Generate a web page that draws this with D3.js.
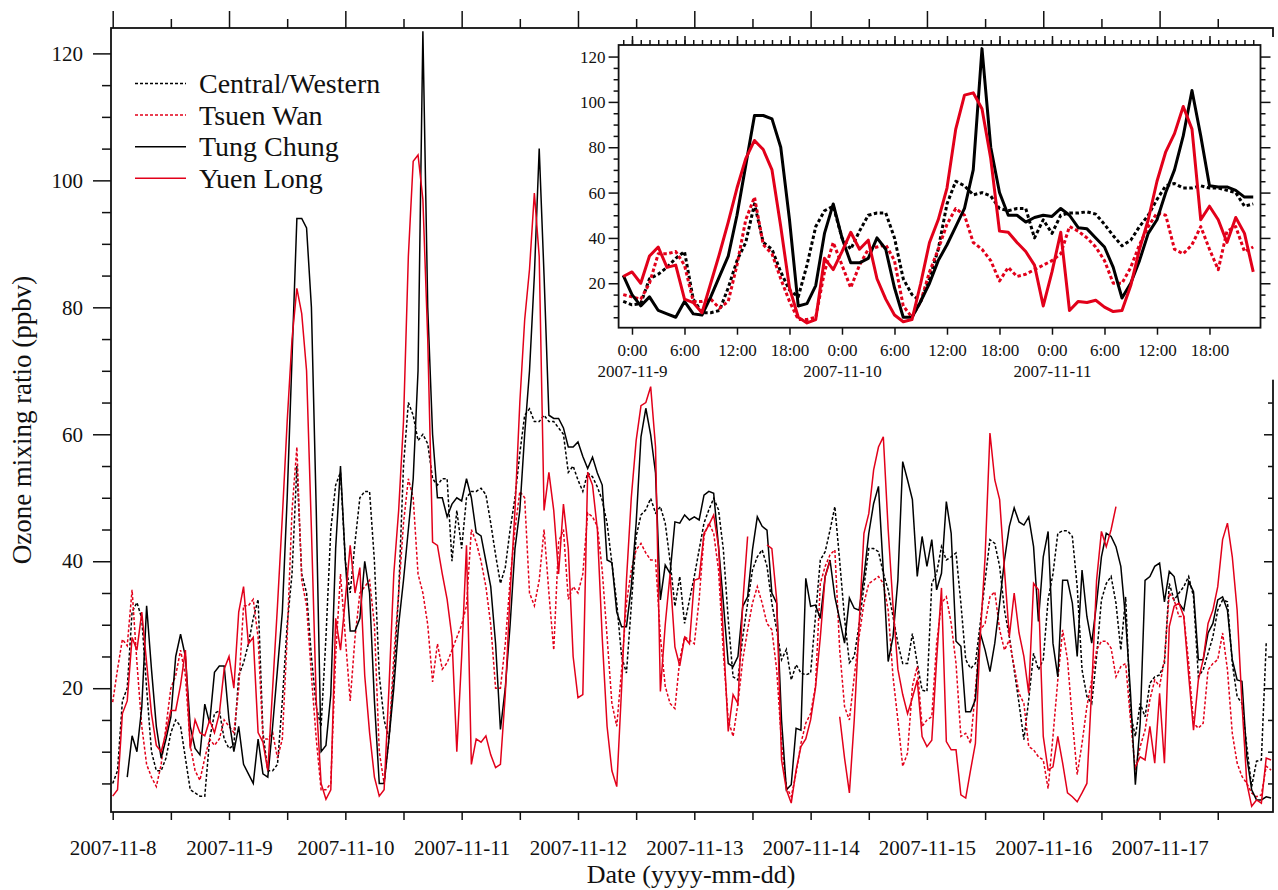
<!DOCTYPE html>
<html>
<head>
<meta charset="utf-8">
<script src="https://cdn.jsdelivr.net/npm/d3@7"></script>
<style>
  body { margin: 0; background: #fff; }
  svg text { font-family: "Liberation Serif", "Times New Roman", serif; fill: #111; }
</style>
</head>
<body>
<svg id="chart" width="1278" height="890"></svg>
<script>
// hourly ozone, 2007-11-8 00:00 .. 2007-11-17 23:00 (240 values each)
var start = new Date(2007, 10, 8, 0, 0);
var dayLabels = ["2007-11-8","2007-11-9","2007-11-10","2007-11-11","2007-11-12",
                 "2007-11-13","2007-11-14","2007-11-15","2007-11-16","2007-11-17"];
var insetDayLabels = ["2007-11-9","2007-11-10","2007-11-11"];
var insetHourLabels = ["0:00","6:00","12:00","18:00"];
var seriesNames = ["Central/Western","Tsuen Wan","Tung Chung","Yuen Long"];

var centralWestern = [
  5,7,18,20,32,33.5,31,20,10,7,7,9,13,15,14,9,4,3.5,3,3,12,16,16.5,12,
  10.5,11,22,24,27,31,34,13,7,7,8,18,30,38,55,38,35,25,17,14,28,45,52,54,
  40,35,43,50,51,51,40,22,15,12,22,35,55,65,63,59,60,58.5,53,52,53,53,40,48,
  42,50,51,51,51.5,50.5,46,41,36.5,39,45,50,57,63,64,62,62,63,62,62,61,60,54,55,
  52.8,51,53.9,53.3,51.7,49.6,46,39.7,33.4,25,22.4,33,43.9,47.3,48.1,49.9,47.6,48.6,46,40,32.9,37.6,30.2,33.9,
  37.6,41.8,46,48.1,49.9,48.1,41.8,30.8,21.8,21.3,28.1,33.4,38.6,40.7,41.8,39.2,33.4,29.2,24.5,26.1,21.3,23.7,22.4,22.1,
  22.4,31.3,40.2,41.5,44.9,48.6,40,31,24,25,30,36,42,42,41.5,38.1,35.5,31.3,27.1,23.9,23.9,28.6,23.9,19.7,
  19.5,36.5,38.1,42.3,40.2,40.7,41.3,33.4,24.5,23.1,23.9,30.2,37,43.4,42.8,39.2,32.3,28.1,22.9,17.6,11.9,18.2,25.5,22.9,
  24.5,34,38,44.4,44.8,44.8,43.9,36,22.9,18.7,17.6,25,33.9,36.5,37.6,33.4,26,34.4,16,12.4,17.6,15.5,20.8,21.8,
  22.1,23.9,36.5,33.9,35,36,37.6,34.4,21.8,22.9,25.5,28.1,32.3,33.9,33.6,23.9,18.7,17.6,10.8,4.5,8.5,8.7,27.1,null
];
var tsuenWan = [
  17.8,23,27.7,26.7,35.5,24,14,8,6,4.5,8,14,20,22,26,22,11,7,5.5,9,12,11,12,15,
  14,13,20,33,33,34,28,12,12,13,9,12,28,48,58,37,33,22,12,4,4,5,25,38,
  28,18,28,35,36,37,30,10,5,12,25,35,46,53,50,38,35,30,21,27,23,24,26,28,
  30,33,45,43,40,36,30,20,20,27,37,45,51,50,35,33,37,45,35,26,43,45,34,36,
  35,38,47.6,47,45.5,38.6,28.1,17.6,14,22.9,33.4,38.6,41.8,42.8,41.3,40.2,40.2,28.1,20.3,17.6,16.8,24.5,28.1,27.6,
  27,34,44,46,44.4,38.6,25.5,15,12.4,17.6,24.5,29.2,33.4,36,33.4,30.2,29.2,22.9,11.3,4.5,2.9,6.6,11.3,14.5,
  16,20.3,36.5,39.2,41,41.8,26,17.1,15,21.8,28.1,33.4,36.5,37,37.6,36.5,32.3,21.8,15,7.7,9.8,20.3,23.4,14,
  15,15.5,27.1,33.4,34.4,30.2,23.9,12.4,12.9,11.3,19.7,29.2,30.2,34.4,35.2,29.2,26,27.6,23.4,19.2,17.6,10.8,10.3,9.2,
  8.7,4.2,12.4,21.3,29.2,24.5,15,6.4,11.3,17.1,21.3,26,27.4,27.4,26.3,21.8,23.4,23.9,15,7.1,10.8,13.4,18.2,21.3,
  20.3,24.5,35,33.9,31.3,31.3,24,14.5,13.7,14.5,22.9,23.9,24.5,28.7,22.9,12.9,8.2,6.1,5,3.5,2.9,3.2,7.7,7.1
];
var tungChung = [
  null,null,null,6,12.5,10,17,33,23,14,9,12,15.5,25,28.5,25,14,10.5,9.5,17.5,14.5,22.5,23.5,23.5,
  15,10,14,8,6.5,5,12,6.5,6,14,23,32,50,72,94,94,92.5,80,48,10,11,19,42,55,
  40,29,29,31,40,35,18,5,5,12,20,30,37,45,53,70,123.5,80,60,50,50,47,49,50,
  49.5,53,50,44.5,44,40,36,27,13.5,20,30,42,48,60,70,85,105,85,63,62.5,62.5,61,58,58,
  58.8,56.5,54.6,56.4,53.9,52,40.2,39.8,32,29.7,29.7,36,46,59.6,64.1,59.9,53.9,33.9,39.4,38.1,46.2,46,47.3,46.5,
  47,46.5,50.4,51,50.7,42.3,33.4,23.9,23.4,25,32.9,34.4,41.8,47,45.5,44.9,35,33.4,15,4,4.8,13.7,13.4,37.3,
  32.9,33.1,31,37.6,40.2,34.4,30.8,27.1,34.2,32.6,32.3,37.6,44.4,49.1,51.8,38.4,24.2,28.1,37,55.7,52.8,49.7,37.6,43.9,
  39.2,43.4,35.5,38.1,49.4,44.4,27.4,26.6,16.3,16.3,18.2,28.7,26,22.6,27.1,33.4,40.2,45.5,48.4,46.2,45.7,47,42.3,30.5,
  40.7,44.7,27.1,21.8,37,37,33.4,25,38.6,31.3,27.1,33.4,40.7,44.4,43.9,42.3,39.2,30.8,19.2,4.8,14.5,37,37.6,39.2,
  39.7,33.6,38.4,37.6,33.4,32.3,36.8,35.2,24.5,24.5,28.7,30.2,33.9,34.4,32.3,24.5,21.3,21.1,9.2,4,2.4,2.4,2.9,2.7
];
var yuenLong = [
  3,4,16,18,28,26,32,24,16,11,10,13,16.5,16.5,20.5,26,10.5,15,13,12.5,15,13,16,23,
  25,20,32,36,27,28,13,11.5,7,20,33,47,62,75,83,79,70,45,18,5,2.5,4,31,26,
  34,42.5,35,39,22,13,6,3,4,20,38,48,62,88,103,104,97,75,43,42.5,38,34,28,10,
  25,42.5,8,12,11.5,12.5,9.5,7.5,8,19,35,48,65,78,86,98,88,48,54,48,38,49,42,25,
  18.5,19,54,52,45,28,14,7,4.5,20,37,50,59,64.5,65,67.5,58,19.5,30,38,26.5,23.5,28,27,
  37,37.3,44.4,45.7,47.3,42.3,28.1,13.2,19,17.6,33.4,43.9,null,null,null,42.6,42,33.9,8.7,4,1.9,7.1,10.8,12,
  15,20,28,37.6,40,null,15.5,9,3.5,15,30,44.4,47.5,54.4,58,59.6,45,33,23,19,16,18.5,21.3,12.4,
  10.8,11.8,24.5,35.8,11.6,10.3,10.3,3.2,2.7,7.1,11.3,28.1,40.7,60.2,52.8,49.7,38.6,28.1,35,28.7,25,19.2,36.5,35.5,
  12.4,7.1,7.6,12.4,8.2,3.5,2.9,2.1,3.5,5,20,37,44.7,42.3,45,48.6,null,null,null,7.6,9.2,8.7,14,8.2,
  19.2,8.2,29.7,32.9,33.4,31.3,22,13.4,21.3,24.5,30.2,32.3,36,43.4,46,40.7,32.3,17.6,5,1.4,2.4,1.9,9,8.7
];

var RED = "#e2001a";
var series = [
  {name: seriesNames[0], values: centralWestern, color: "#000", dashed: true},
  {name: seriesNames[1], values: tsuenWan, color: RED, dashed: true},
  {name: seriesNames[2], values: tungChung, color: "#000", dashed: false},
  {name: seriesNames[3], values: yuenLong, color: RED, dashed: false}
];

function hourAt(h) { return new Date(+start + h * 36e5); }

var svg = d3.select("#chart");

// ---------- main panel ----------
var M = {left: 111, right: 1273, top: 28, bottom: 812};
var x = d3.scaleTime().domain([hourAt(-0.35), hourAt(239.4)]).range([M.left, M.right]);
var y = d3.scaleLinear().domain([0.5, 124]).range([M.bottom, M.top]);

var days = d3.range(10).map(function(d) { return hourAt(d * 24); });
var noons = d3.range(10).map(function(d) { return hourAt(d * 24 + 12); });
var majorY = [20, 40, 60, 80, 100, 120];
var minorY = d3.range(5, 124, 5).filter(function(v) { return v % 20 != 0; });

function clean(g) { g.select(".domain").remove(); g.selectAll("line").attr("stroke", "#111").attr("stroke-width", 1.5); }

svg.append("g").attr("transform", "translate(" + M.left + ",0)")
  .call(d3.axisLeft(y).tickValues(majorY).tickSize(18).tickPadding(10).tickFormat(d3.format("d")))
  .call(clean).selectAll("text").attr("font-size", 21).attr("font-family", "Liberation Serif");
svg.append("g").attr("transform", "translate(" + M.left + ",0)")
  .call(d3.axisLeft(y).tickValues(minorY).tickSize(9).tickFormat(""))
  .call(clean);
svg.append("g").attr("transform", "translate(" + M.right + ",0)")
  .call(d3.axisRight(y).tickValues(majorY).tickSize(-9).tickFormat(""))
  .call(clean);
svg.append("g").attr("transform", "translate(" + M.right + ",0)")
  .call(d3.axisRight(y).tickValues(minorY).tickSize(-5).tickFormat(""))
  .call(clean);

svg.append("g").attr("transform", "translate(0," + M.top + ")")
  .call(d3.axisTop(x).tickValues(days).tickSize(17).tickFormat(""))
  .call(clean);
svg.append("g").attr("transform", "translate(0," + M.top + ")")
  .call(d3.axisTop(x).tickValues(noons).tickSize(9).tickFormat(""))
  .call(clean);

svg.append("g").attr("transform", "translate(0," + M.bottom + ")")
  .call(d3.axisBottom(x).tickValues(days).tickSize(8).tickPadding(20)
    .tickFormat(function(d, i) { return dayLabels[i]; }))
  .call(clean).selectAll("text").attr("font-size", 21).attr("font-family", "Liberation Serif");
svg.append("g").attr("transform", "translate(0," + M.bottom + ")")
  .call(d3.axisBottom(x).tickValues(noons).tickSize(8).tickFormat(""))
  .call(clean);

svg.append("rect").attr("x", M.left).attr("y", M.top)
  .attr("width", M.right - M.left).attr("height", M.bottom - M.top)
  .attr("fill", "none").attr("stroke", "#111").attr("stroke-width", 1.8);

svg.append("defs").append("clipPath").attr("id", "clipMain")
  .append("rect").attr("x", M.left).attr("y", M.top)
  .attr("width", M.right - M.left).attr("height", M.bottom - M.top);

var hours = d3.range(240);
var vals;
var line = d3.line()
  .defined(function(h) { return vals[h] != null; })
  .x(function(h) { return x(hourAt(h)); })
  .y(function(h) { return y(vals[h]); });

var mainG = svg.append("g").attr("clip-path", "url(#clipMain)");
series.forEach(function(s) {
  vals = s.values;
  mainG.append("path")
    .attr("d", line(hours))
    .attr("fill", "none")
    .attr("stroke", s.color)
    .attr("stroke-width", 1.5)
    .attr("stroke-dasharray", s.dashed ? "3,2" : null);
});

// legend
var leg = svg.append("g");
series.forEach(function(s, i) {
  var yy = 83.5 + i * 31.6;
  leg.append("line").attr("x1", 135).attr("x2", 186).attr("y1", yy).attr("y2", yy)
    .attr("stroke", s.color).attr("stroke-width", 1.5)
    .attr("stroke-dasharray", s.dashed ? "3,2" : null);
  leg.append("text").attr("x", 199).attr("y", yy + 9.5).attr("font-size", 28).text(s.name);
});

svg.append("text").attr("transform", "translate(31,420) rotate(-90)")
  .attr("text-anchor", "middle").attr("font-size", 27).text("Ozone mixing ratio (ppbv)");
svg.append("text").attr("x", 691).attr("y", 883)
  .attr("text-anchor", "middle").attr("font-size", 26).text("Date (yyyy-mm-dd)");

// ---------- inset ----------
var I = {left: 618.6, right: 1260.5, top: 45, bottom: 327.7};
var xi = d3.scaleTime().domain([hourAt(22.47), hourAt(95.83)]).range([I.left, I.right]);
var yi = d3.scaleLinear().domain([0.4, 125.1]).range([I.bottom, I.top]);

svg.append("rect").attr("x", I.left - 45).attr("y", I.top - 8)
  .attr("width", I.right - I.left + 60).attr("height", I.bottom - I.top + 60)
  .attr("fill", "#fff");

var insetHours = d3.range(23, 96);
var sixHours = d3.range(24, 96, 6).map(hourAt);
var everyHour = d3.range(23, 96).map(hourAt);

svg.append("g").attr("transform", "translate(" + I.left + ",0)")
  .call(d3.axisLeft(yi).tickValues(majorY).tickSize(10).tickPadding(3).tickFormat(d3.format("d")))
  .call(clean).selectAll("text").attr("font-size", 17).attr("font-family", "Liberation Serif");
svg.append("g").attr("transform", "translate(" + I.left + ",0)")
  .call(d3.axisLeft(yi).tickValues(minorY).tickSize(5).tickFormat(""))
  .call(clean);
svg.append("g").attr("transform", "translate(" + I.right + ",0)")
  .call(d3.axisRight(yi).tickValues(majorY).tickSize(10).tickFormat(""))
  .call(clean);
svg.append("g").attr("transform", "translate(" + I.right + ",0)")
  .call(d3.axisRight(yi).tickValues(minorY).tickSize(5).tickFormat(""))
  .call(clean);
svg.append("g").attr("transform", "translate(0," + I.top + ")")
  .call(d3.axisTop(xi).tickValues(everyHour).tickSize(5).tickFormat(""))
  .call(clean);
svg.append("g").attr("transform", "translate(0," + I.top + ")")
  .call(d3.axisTop(xi).tickValues(sixHours).tickSize(9).tickFormat(""))
  .call(clean);
svg.append("g").attr("transform", "translate(0," + I.bottom + ")")
  .call(d3.axisBottom(xi).tickValues(sixHours).tickSize(7).tickPadding(9)
    .tickFormat(function(d, i) { return insetHourLabels[i % 4]; }))
  .call(clean).selectAll("text").attr("font-size", 17).attr("font-family", "Liberation Serif");
svg.append("g").attr("transform", "translate(0," + I.bottom + ")")
  .call(d3.axisBottom(xi).tickValues(d3.range(24, 96, 24).map(hourAt)).tickSize(0).tickPadding(37)
    .tickFormat(function(d, i) { return insetDayLabels[i]; }))
  .call(clean).selectAll("text").attr("font-size", 17).attr("font-family", "Liberation Serif");

svg.append("defs").append("clipPath").attr("id", "clipInset")
  .append("rect").attr("x", I.left).attr("y", I.top)
  .attr("width", I.right - I.left).attr("height", I.bottom - I.top);

var lineI = d3.line()
  .defined(function(h) { return vals[h] != null; })
  .x(function(h) { return xi(hourAt(h)); })
  .y(function(h) { return yi(vals[h]); });

var insetG = svg.append("g").attr("clip-path", "url(#clipInset)");
series.forEach(function(s) {
  vals = s.values;
  insetG.append("path")
    .attr("d", lineI(insetHours))
    .attr("fill", "none")
    .attr("stroke", s.color)
    .attr("stroke-width", 3)
    .attr("stroke-linejoin", "round")
    .attr("stroke-dasharray", s.dashed ? "3.5,2.5" : null);
});

svg.append("rect").attr("x", I.left).attr("y", I.top)
  .attr("width", I.right - I.left).attr("height", I.bottom - I.top)
  .attr("fill", "none").attr("stroke", "#111").attr("stroke-width", 1.8);
</script>
</body>
</html>
